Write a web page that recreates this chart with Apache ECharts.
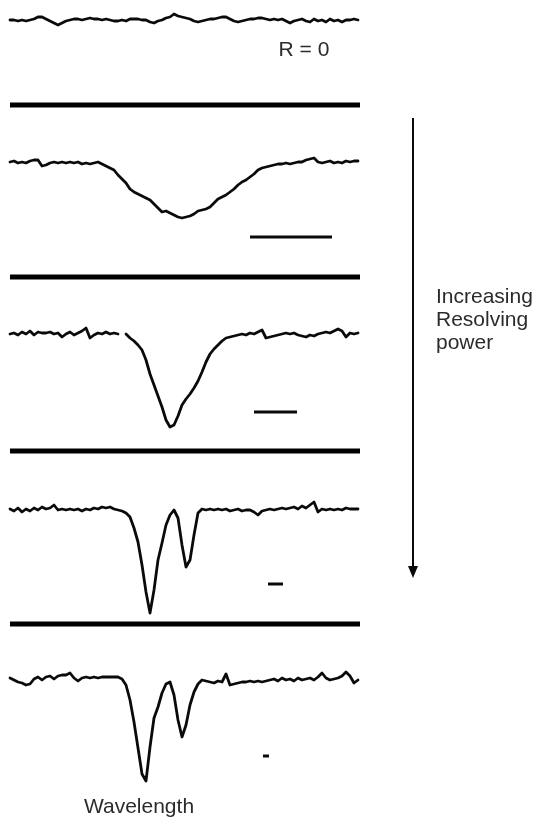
<!DOCTYPE html>
<html>
<head>
<meta charset="utf-8">
<script src="https://cdn.jsdelivr.net/npm/echarts@6/dist/echarts.min.js"></script>
<style>
  html, body { margin: 0; padding: 0; background: #fff; }
  #chart { width: 535px; height: 819px; }
</style>
</head>
<body>
<div id="chart"></div>
<script>
// Wavelength sampling (arbitrary units across the spectral window)
const wavelength = [
  0, 4, 8, 12, 16, 20, 24, 28, 32, 36, 40, 44, 48, 52, 56, 60, 64, 68, 72, 76,
  80, 84, 88, 92, 96, 100, 104, 108, 112, 116, 120, 124, 128, 132, 136, 140, 144, 148, 152, 156,
  160, 164, 168, 172, 176, 180, 184, 188, 192, 196, 200, 204, 208, 212, 216, 220, 224, 228, 232, 236,
  240, 244, 248, 252, 256, 260, 264, 268, 272, 276, 280, 284, 288, 292, 296, 300, 304, 308, 312, 316,
  320, 324, 328, 332, 336, 340, 344, 348
];

// Recorded intensity for each resolving power (continuum ~110)
const spectrumR0 = [
  109, 109, 108, 109, 108, 109, 110, 112, 112, 110,
  108, 106, 104, 106, 108, 109, 110, 110, 109, 110,
  111, 110, 110, 109, 110, 109, 108, 108, 109, 108,
  110, 110, 110, 109, 109, 107, 106, 108, 109, 111,
  112, 115, 113, 112, 111, 110, 108, 107, 108, 109,
  110, 110, 111, 112, 112, 110, 108, 107, 108, 109,
  110, 110, 111, 111, 110, 109, 110, 109, 110, 108,
  106, 108, 109, 110, 108, 107, 110, 108, 109, 107,
  110, 108, 109, 107, 109, 109, 110, 109
];
const spectrumLow = [
  110, 111, 109, 110, 109, 111, 112, 112, 106, 107,
  109, 110, 109, 110, 109, 110, 109, 110, 108, 109,
  108, 109, 110, 108, 106, 104, 102, 97, 93, 89,
  83, 80, 78, 76, 74, 72, 68, 64, 60, 61,
  59, 57, 55, 54, 55, 56, 58, 61, 62, 63,
  65, 69, 73, 75, 77, 80, 83, 87, 90, 92,
  95, 98, 102, 104, 105, 106, 107, 108, 108, 109,
  108, 109, 110, 110, 112, 113, 114, 110, 109, 110,
  111, 109, 110, 109, 111, 110, 111, 111
];
const spectrumMid = [
  109, 110, 108, 111, 109, 112, 108, 111, 110, 110,
  111, 109, 110, 106, 109, 111, 108, 110, 112, 115,
  105, 108, 110, 109, 111, 109, 110, 109, null, 109,
  105, 102, 98, 93, 83, 69, 58, 47, 36, 23,
  16, 18, 27, 38, 44, 49, 55, 62, 71, 81,
  89, 94, 98, 102, 105, 106, 107, 108, 109, 108,
  110, 109, 111, 113, 105, 106, 107, 108, 109, 110,
  109, 110, 108, 107, 106, 108, 107, 109, 110, 111,
  110, 112, 114, 112, 106, 110, 109, 110
];
const spectrumHigh = [
  110, 108, 111, 107, 110, 108, 111, 109, 112, 110,
  111, 114, 109, 110, 109, 110, 109, 110, 108, 110,
  109, 111, 110, 112, 111, 112, 110, 109, 108, 106,
  102, 91, 77, 54, 27, 6, 29, 59, 76, 94,
  104, 109, 101, 74, 52, 59, 84, 106, 110, 109,
  110, 109, 110, 109, 110, 108, 109, 110, 108, 109,
  109, 107, 104, 108, 109, 110, 109, 110, 111, 110,
  111, 112, 110, 113, 111, 114, 117, 107, 110, 109,
  110, 109, 110, 109, 111, 110, 110, 110
];
const spectrumHighest = [
  112, 110, 108, 107, 105, 106, 111, 113, 110, 113,
  114, 111, 114, 115, 115, 117, 112, 109, 112, 113,
  112, 113, 112, 113, 113, 113, 113, 113, 111, 105,
  90, 68, 42, 16, 9, 43, 72, 83, 97, 106,
  108, 95, 70, 53, 65, 85, 98, 106, 110, 109,
  108, 107, 109, 108, 116, 105, 106, 107, 108, 108,
  109, 108, 109, 108, 109, 110, 111, 109, 112, 110,
  111, 109, 112, 110, 111, 112, 110, 113, 117, 112,
  110, 111, 112, 114, 118, 114, 107, 110
];

const spectra = [spectrumR0, spectrumLow, spectrumMid, spectrumHigh, spectrumHighest];

// Resolution element shown under each resolved spectrum: [start, end, level]
const resolutionStart = [null, 240, 244, 258, 253];
const resolutionEnd   = [null, 322, 287, 273, 259];
const resolutionLevel = [null, 35, 31, 35, 34];

// Divider drawn below each panel (intensity level in that panel's scale)
const dividerLevel = [24, -5, -8, -5, null];
const dividerStart = 0;
const dividerEnd = 350;

// Layout of the stacked panels (top of each plotting area, px)
const panelTop = [4, 147, 318, 494, 665];
const panelHeight = 140;

const ink = '#0a0a0a';
const grids = [], xAxes = [], yAxes = [], series = [];

spectra.forEach((spec, i) => {
  grids.push({ left: 10, width: 350, top: panelTop[i], height: panelHeight });
  xAxes.push({ type: 'value', gridIndex: i, min: 0, max: 350, show: false });
  yAxes.push({ type: 'value', gridIndex: i, min: -15, max: 125, show: false });

  series.push({
    type: 'line', xAxisIndex: i, yAxisIndex: i,
    data: wavelength.map((w, k) => [w, spec[k]]),
    showSymbol: false, connectNulls: false, clip: false, smooth: false,
    lineStyle: { color: ink, width: 2.8, join: 'round', cap: 'round' },
    silent: true
  });

  if (resolutionStart[i] !== null) {
    series.push({
      type: 'line', xAxisIndex: i, yAxisIndex: i,
      data: [[resolutionStart[i], resolutionLevel[i]], [resolutionEnd[i], resolutionLevel[i]]],
      showSymbol: false, clip: false,
      lineStyle: { color: ink, width: 3 }, silent: true
    });
  }

  if (dividerLevel[i] !== null) {
    series.push({
      type: 'line', xAxisIndex: i, yAxisIndex: i,
      data: [[dividerStart, dividerLevel[i]], [dividerEnd, dividerLevel[i]]],
      showSymbol: false, clip: false,
      lineStyle: { color: '#000', width: 5 }, silent: true
    });
  }
});

const textFont = '21px "Liberation Sans", Arial, sans-serif';
const textColor = '#2b2b2b';

const chart = echarts.init(document.getElementById('chart'), null, { renderer: 'canvas' });
chart.setOption({
  animation: false,
  backgroundColor: '#fff',
  grid: grids,
  xAxis: xAxes,
  yAxis: yAxes,
  series: series,
  graphic: [
    { type: 'text', style: { text: 'R = 0', x: 304, y: 50, textAlign: 'center', textVerticalAlign: 'middle', font: textFont, fill: textColor } },
    { type: 'text', style: { text: 'Increasing\nResolving\npower', x: 436, y: 286, textAlign: 'left', textVerticalAlign: 'top', font: textFont, lineHeight: 23, fill: textColor } },
    { type: 'text', style: { text: 'Wavelength', x: 139, y: 807, textAlign: 'center', textVerticalAlign: 'middle', font: textFont, fill: textColor } },
    { type: 'line', shape: { x1: 413, y1: 118, x2: 413, y2: 568 }, style: { stroke: ink, lineWidth: 2 } },
    { type: 'polygon', shape: { points: [[408, 566], [418, 566], [413, 578]] }, style: { fill: ink } }
  ]
});
</script>
</body>
</html>
